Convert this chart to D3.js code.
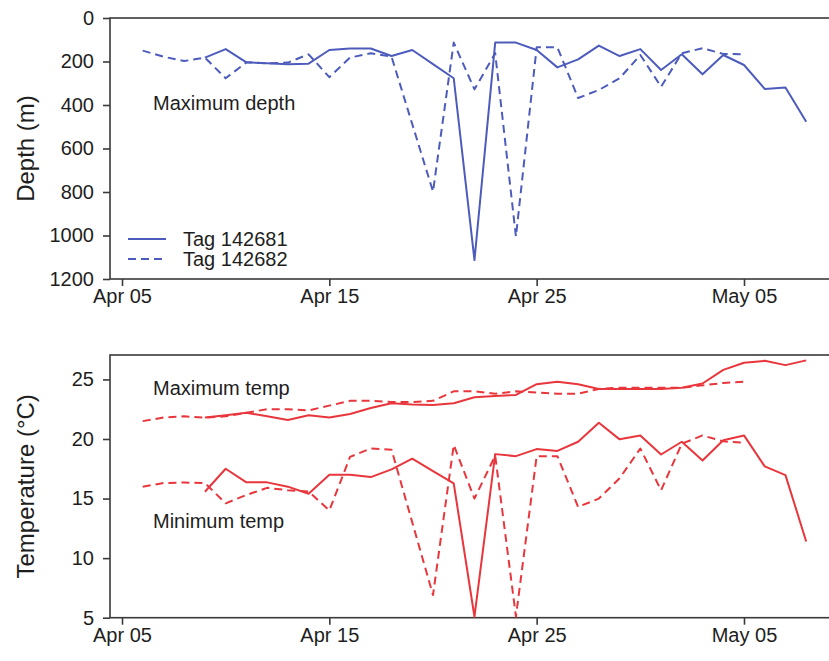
<!DOCTYPE html>
<html>
<head>
<meta charset="utf-8">
<script src="https://cdn.jsdelivr.net/npm/d3@7"></script>
<style>
  html, body { margin: 0; padding: 0; background: #fff; }
  svg { display: block; font-family: "Liberation Sans", Arial, sans-serif; }
</style>
</head>
<body>
<svg id="chart" width="829" height="661"></svg>
<script>
// ---------- data ----------
// Tag 142681 (solid): Apr 09 .. May 08 ; Tag 142682 (dashed): Apr 06 .. May 05
const tag1Start = "2014-04-09";
const tag2Start = "2014-04-06";
const tag1Depth = [182, 143, 204, 208, 213, 210, 147, 140, 140, 175, 147, 212, 277, 1113, 113, 113, 147, 227, 190, 127, 175, 143, 239, 167, 259, 170, 216, 326, 320, 477];
const tag2Depth = [150, 178, 198, 182, 277, 204, 208, 205, 167, 272, 182, 162, 178, 488, 798, 113, 328, 162, 1005, 135, 135, 368, 331, 277, 170, 316, 162, 139, 165, 167];
const tag1MaxTemp = [21.8, 22.0, 22.2, 21.9, 21.6, 22.0, 21.8, 22.1, 22.6, 23.0, 22.9, 22.85, 23.0, 23.5, 23.6, 23.7, 24.6, 24.8, 24.6, 24.2, 24.2, 24.2, 24.2, 24.3, 24.66, 25.8, 26.4, 26.56, 26.2, 26.6];
const tag2MaxTemp = [21.5, 21.8, 21.9, 21.8, 21.9, 22.2, 22.5, 22.5, 22.4, 22.8, 23.2, 23.2, 23.1, 23.1, 23.2, 24.0, 24.0, 23.8, 24.0, 23.9, 23.8, 23.8, 24.2, 24.3, 24.3, 24.3, 24.3, 24.5, 24.7, 24.8];
const tag1MinTemp = [15.57, 17.5, 16.36, 16.36, 16.0, 15.4, 17.0, 17.0, 16.8, 17.45, 18.35, 17.3, 16.27, 5.08, 18.73, 18.56, 19.15, 19.0, 19.77, 21.36, 19.97, 20.3, 18.7, 19.77, 18.2, 19.9, 20.3, 17.7, 16.97, 11.4];
const tag2MinTemp = [16.0, 16.3, 16.35, 16.3, 14.6, 15.3, 15.9, 15.7, 15.6, 14.0, 18.5, 19.2, 19.1, 13.0, 6.9, 19.5, 15.0, 18.6, 5.1, 18.56, 18.56, 14.3, 15.0, 16.7, 19.2, 15.7, 19.6, 20.3, 19.8, 19.7];
const dateTicks = ["2014-04-05", "2014-04-15", "2014-04-25", "2014-05-05"];
const depthTicks = [0, 200, 400, 600, 800, 1000, 1200];
const tempTicks = [5, 10, 15, 20, 25];
const legendLabels = ["Tag 142681", "Tag 142682"];

// ---------- helpers ----------
const parse = d3.utcParse("%Y-%m-%d");
const DAY = 86400000;
function series(start, vals) {
  const s = parse(start).getTime();
  return vals.map((v, i) => ({ date: new Date(s + i * DAY), v }));
}

const BLUE = "#4d5cbc";
const RED = "#e8363c";
const AXIS = "#3a3a3a";
const TEXT = "#1e1e1e";
const FS = "20px";

const svg = d3.select("#chart");

const plotLeft = 110, plotRight = 834;
const x = d3.scaleUtc()
  .domain([parse("2014-04-05"), parse("2014-05-05")])
  .range([122, 744]);

function panel(top, bottom, y, yTicks, yLabel, yLabelX) {
  const g = svg.append("g");
  g.append("rect")
    .attr("x", plotLeft).attr("y", top)
    .attr("width", plotRight - plotLeft).attr("height", bottom - top)
    .attr("fill", "none").attr("stroke", AXIS).attr("stroke-width", 1.6);
  const ya = g.append("g").attr("transform", `translate(${plotLeft},0)`)
    .call(d3.axisLeft(y).tickValues(yTicks).tickFormat(d3.format("d")).tickSize(7).tickPadding(9).tickSizeOuter(0));
  ya.select(".domain").remove();
  ya.selectAll(".tick line").attr("stroke", AXIS).attr("stroke-width", 1.6);
  ya.selectAll(".tick text").attr("fill", TEXT).style("font-size", FS);
  const xa = g.append("g").attr("transform", `translate(0,${bottom})`)
    .call(d3.axisBottom(x).tickValues(dateTicks.map(parse)).tickFormat(d3.utcFormat("%b %d")).tickSize(7).tickPadding(3).tickSizeOuter(0));
  xa.select(".domain").remove();
  xa.selectAll(".tick line").attr("stroke", AXIS).attr("stroke-width", 1.6);
  xa.selectAll(".tick text").attr("fill", TEXT).style("font-size", FS);
  g.append("text")
    .attr("transform", `translate(${yLabelX},${(top + bottom) / 2}) rotate(-90)`)
    .attr("text-anchor", "middle")
    .attr("fill", TEXT)
    .style("font-size", "24px")
    .text(yLabel);
  return g;
}

function drawLine(g, data, y, color, dashed) {
  g.append("path")
    .datum(data)
    .attr("fill", "none")
    .attr("stroke", color)
    .attr("stroke-width", 2)
    .attr("stroke-linejoin", "round")
    .attr("stroke-dasharray", dashed ? "8,5" : null)
    .attr("d", d3.line().x(d => x(d.date)).y(d => y(d.v)));
}

// ---------- top panel: depth ----------
const yDepth = d3.scaleLinear().domain([0, 1200]).range([18, 279]);
const gTop = panel(18, 279, yDepth, depthTicks, "Depth (m)", 34);
drawLine(gTop, series(tag2Start, tag2Depth), yDepth, BLUE, true);
drawLine(gTop, series(tag1Start, tag1Depth), yDepth, BLUE, false);

gTop.append("text").attr("x", 153).attr("y", 110).attr("fill", TEXT)
  .style("font-size", FS).text("Maximum depth");

legendLabels.forEach((lab, i) => {
  const ly = 239 + i * 20;
  gTop.append("line").attr("x1", 128).attr("x2", 166).attr("y1", ly).attr("y2", ly)
    .attr("stroke", BLUE).attr("stroke-width", 2)
    .attr("stroke-dasharray", i === 1 ? "8,5" : null);
  gTop.append("text").attr("x", 183).attr("y", ly + 7).attr("fill", TEXT)
    .style("font-size", FS).text(lab);
});

// ---------- bottom panel: temperature ----------
const yTemp = d3.scaleLinear().domain([5, 27.05]).range([617.7, 355]);
const gBot = panel(355, 617.7, yTemp, tempTicks, "Temperature (°C)", 34);
drawLine(gBot, series(tag2Start, tag2MaxTemp), yTemp, RED, true);
drawLine(gBot, series(tag1Start, tag1MaxTemp), yTemp, RED, false);
drawLine(gBot, series(tag2Start, tag2MinTemp), yTemp, RED, true);
drawLine(gBot, series(tag1Start, tag1MinTemp), yTemp, RED, false);

gBot.append("text").attr("x", 153).attr("y", 395).attr("fill", TEXT)
  .style("font-size", FS).text("Maximum temp");
gBot.append("text").attr("x", 153).attr("y", 528).attr("fill", TEXT)
  .style("font-size", FS).text("Minimum temp");
</script>
</body>
</html>
